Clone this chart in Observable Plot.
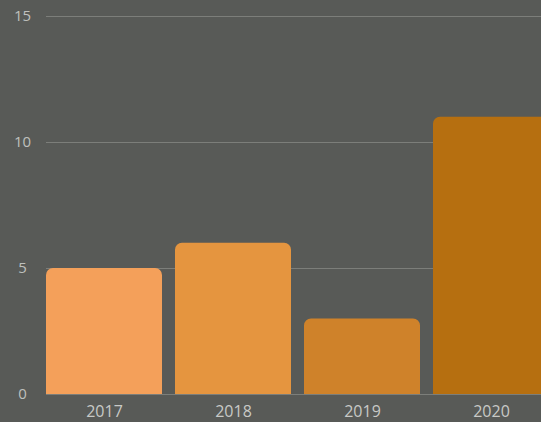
<!DOCTYPE html>
<html>
<head>
<meta charset="utf-8">
<script src="https://cdn.jsdelivr.net/npm/d3@7"></script>
<script src="https://cdn.jsdelivr.net/npm/@observablehq/plot@0.6"></script>
<style>
  html, body { margin: 0; padding: 0; background: #585a57; overflow: hidden; }
  #chart svg { display: block; overflow: hidden; }
</style>
</head>
<body>
<div id="chart"></div>
<script>
const years = ["2017", "2018", "2019", "2020"];
const values = [5, 6, 3, 11];
const yTicks = [0, 5, 10, 15];

const data = years.map((year, i) => ({year, value: values[i]}));

const chart = Plot.plot({
  width: 541,
  height: 422,
  marginLeft: 33,
  marginRight: -22,
  marginTop: 16,
  marginBottom: 28,
  style: {background: "#585a57", fontFamily: "'Open Sans', sans-serif", overflow: "hidden"},
  x: {domain: years, padding: 0.1, label: null, tickSize: 0},
  y: {domain: [0, 15], ticks: yTicks, label: null, tickSize: 0},
  color: {domain: years, range: ["#f4a05a", "#e5953f", "#cf822a", "#b66f10"]},
  marks: [
    Plot.ruleY(yTicks, {stroke: "#7c7e7a", strokeWidth: 1, insetLeft: 13}),
    Plot.barY(data, {x: "year", y: "value", fill: "year", ry1: 7}),
    Plot.axisY({ticks: yTicks, tickSize: 0, tickPadding: 0, dx: -11, textAnchor: "middle", fill: "#bfc0bd", fontSize: 15, label: null}),
    Plot.axisX({tickSize: 0, tickPadding: 11, fill: "#c8c9c6", fontSize: 16, label: null})
  ]
});
document.getElementById("chart").append(chart);
</script>
</body>
</html>
